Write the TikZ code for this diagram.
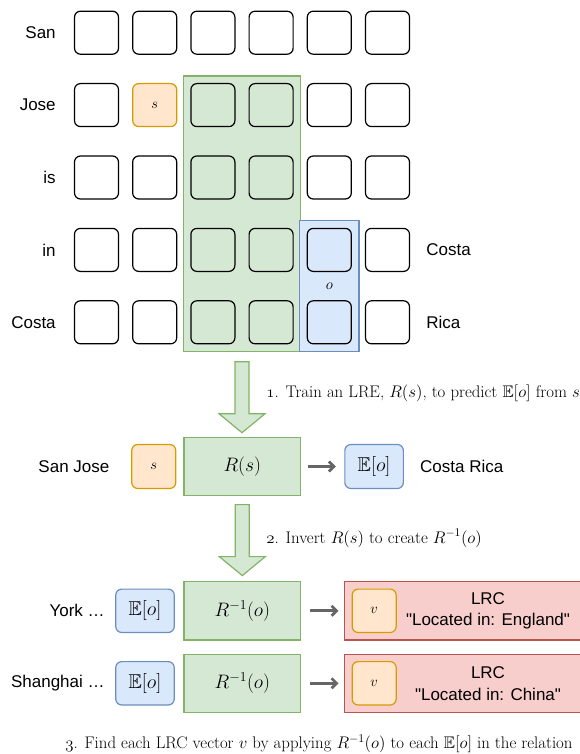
\RequirePackage{fix-cm}
\documentclass[tikz,border=0pt]{standalone}
\usepackage{amssymb}
\usepackage{fontspec}
\setsansfont{Liberation Sans}
\usetikzlibrary{positioning,fit,backgrounds,calc,arrows.meta}

\definecolor{greenfill}{HTML}{D5E8D4}
\definecolor{greenline}{HTML}{82B366}
\definecolor{orangefill}{HTML}{FFE6CC}
\definecolor{orangeline}{HTML}{D79B00}
\definecolor{bluefill}{HTML}{DAE8FC}
\definecolor{blueline}{HTML}{6C8EBF}
\definecolor{redfill}{HTML}{F8CECC}
\definecolor{redline}{HTML}{B85450}
\definecolor{arrowgray}{HTML}{666666}

\tikzset{
  word/.style={font=\sffamily\fontsize{17}{21.7}\selectfont, inner sep=2pt},
  note/.style={font=\fontsize{16.8}{20}\selectfont, inner sep=0pt},
  cell/.style={draw, rounded corners=6pt, line width=1.2pt, minimum width=44pt,
    minimum height=43pt, inner sep=0pt, font=\fontsize{14.5}{16}\selectfont},
  scell/.style={cell, draw=orangeline, fill=orangefill},
  vcell/.style={scell, minimum height=43.4pt},
  ecell/.style={cell, draw=blueline, fill=bluefill, minimum width=58.5pt,
    minimum height=43.4pt, font=\fontsize{20}{22}\selectfont},
  lrebox/.style={draw=greenline, fill=greenfill, line width=1.2pt, minimum width=116.7pt,
    minimum height=58.4pt, inner sep=0pt, font=\fontsize{19.5}{22}\selectfont},
  lrcbox/.style={draw=redline, fill=redfill, line width=1.2pt, minimum width=240pt,
    minimum height=58.4pt, inner sep=0pt},
  blockarr/.style={draw=greenline, fill=greenfill, line width=1.2pt},
  grayarr/.style={draw=arrowgray, line width=2.8pt, -{Straight Barb[length=5pt,width=10pt]}}
}

\begin{document}
\begin{tikzpicture}[x=1pt, y=-1pt]
\useasboundingbox (0,0) rectangle (579,754);

% token grid
\foreach \r/\w in {1/San,2/Jose,3/is,4/in,5/Costa} {
  \foreach \c in {1,...,6} {
    \ifnum\r\c=22 \def\sty{scell}\else\def\sty{cell}\fi
    \node[\sty] (c\r\c) at ({38.3+58.2*\c}, {-39.7+72.4*\r}) {\ifnum\r\c=22 $s$\fi};
  }
  \node[word, left=16pt of c\r1] (w\r) {\w};
}
\node[word, right=14pt of c46] (out1) {Costa};
\node[word, right=14pt of c56] (out2) {Rica};

\begin{scope}[on background layer]
  \node[draw=greenline, fill=greenfill, line width=1.2pt, inner sep=7pt, fit=(c23)(c54)] (lre) {};
  \node[draw=blueline, fill=bluefill, line width=1.2pt, inner sep=7pt, fit=(c45)(c55)] (obj) {};
\end{scope}
\node[inner sep=0pt, font=\fontsize{15}{18}\selectfont] (olbl) at ($(c45)!0.5!(c55)$) {$o$};

% step 1
\coordinate (a1) at ([yshift=-9.7pt]lre.south);
\draw[blockarr] (a1) ++(-7,0) -- ++(14,0) -- ++(0,52) -- ++(16,0) -- ++(-23,19)
  -- ++(-23,-19) -- ++(16,0) -- cycle;
\node[note, anchor=west] (step1) at (266.2,393.3)
  {$\mathnormal{1}$. Train an LRE, $R(s)$, to predict $\mathbb{E}[o]$ from $s$};

\node[lrebox] (rs) at (242.3,466.5) {$R(s)$};
\node[scell, minimum height=44pt, left=7pt of rs] (s) {$s$};
\node[word, left=19.6pt of s] (subj) {San Jose};
\node[ecell, minimum height=44pt, right=43pt of rs] (eo) {$\mathbb{E}[o]$};
\node[word, right=14pt of eo] (obj2) {Costa Rica};
\draw[grayarr, shorten <=7pt, shorten >=8.5pt] (rs) -- (eo);

% step 2
\coordinate (a2) at ([yshift=-8.3pt]rs.south);
\draw[blockarr] (a2) ++(-7,0) -- ++(14,0) -- ++(0,52) -- ++(16,0) -- ++(-23,19)
  -- ++(-23,-19) -- ++(16,0) -- cycle;
\node[note, anchor=west] (step2) at (266.2,538.3)
  {$\mathnormal{2}$. Invert $R(s)$ to create $R^{-1}(o)$};

% step 3
\foreach \i/\y/\src/\dst in {1/610.8/York/England, 2/683.3/Shanghai/China} {
  \node[lrebox] (inv\i) at (242.3,\y) {$R^{-1}(o)$};
  \node[ecell, left=8.5pt of inv\i] (e\i) {$\mathbb{E}[o]$};
  \node[word, left=8.3pt of e\i] (src\i) {\src\ \ldots};
  \node[lrcbox, anchor=west] (lrc\i) at ([xshift=43pt]inv\i.east) {};
  \node[vcell, right=7.3pt of lrc\i.west] (v\i) {$v$};
  \node[word, align=center] (lrctxt\i) at (488,\y) {LRC\\\textquotedbl Located in: \dst\textquotedbl};
  \draw[grayarr, shorten <=9pt, shorten >=5.7pt] (inv\i) -- (lrc\i.west);
}
\node[note] (step3) at (319,744)
  {$\mathnormal{3}$. Find each LRC vector $v$ by applying $R^{-1}(o)$ to each $\mathbb{E}[o]$ in the relation};
\end{tikzpicture}
\end{document}
